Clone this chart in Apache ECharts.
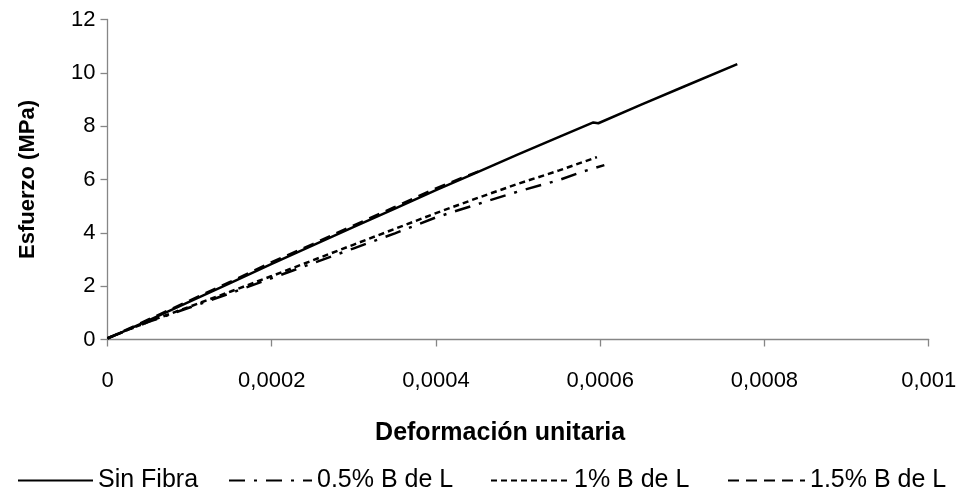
<!DOCTYPE html>
<html>
<head>
<meta charset="utf-8">
<script src="https://cdn.jsdelivr.net/npm/echarts@6/dist/echarts.min.js"></script>
<style>
html,body{margin:0;padding:0;background:#fff;}
#c{width:965px;height:495px;}
</style>
</head>
<body>
<div id="c"></div>
<script>
// Strain values (x) and stress values (y, MPa) per series
const sinFibraX = [0, 0.00005, 0.0001, 0.00015, 0.0002, 0.00025, 0.0003, 0.00035, 0.0004, 0.00045, 0.0005, 0.00055, 0.0005916, 0.0005977, 0.00065, 0.0007, 0.0007669];
const sinFibraY = [0.03, 0.72, 1.42, 2.12, 2.84, 3.53, 4.22, 4.91, 5.6, 6.27, 6.94, 7.6, 8.14, 8.11, 8.81, 9.46, 10.33];

const b05X = [0, 0.00005, 0.0001, 0.00015, 0.0002, 0.00025, 0.0003, 0.00035, 0.0004, 0.00045, 0.0005, 0.00055, 0.000579, 0.000605];
const b05Y = [0.05, 0.66, 1.2, 1.74, 2.3, 2.86, 3.42, 3.98, 4.58, 5.07, 5.55, 5.98, 6.3, 6.54];

const b1X = [0, 0.00005, 0.0001, 0.00015, 0.0002, 0.00025, 0.0003, 0.00035, 0.0004, 0.00045, 0.0005, 0.00055, 0.000596];
const b1Y = [0.05, 0.67, 1.23, 1.8, 2.38, 2.97, 3.56, 4.15, 4.74, 5.3, 5.84, 6.34, 6.84];

const b15X = [0, 0.00005, 0.0001, 0.00015, 0.0002, 0.00025, 0.0003, 0.00035, 0.0004, 0.000457];
const b15Y = [0.04, 0.75, 1.46, 2.17, 2.9, 3.58, 4.28, 4.97, 5.67, 6.37];

const seriesNames = ['Sin Fibra', '0.5% B de L', '1% B de L', '1.5% B de L'];
const xTickLabels = ['0', '0,0002', '0,0004', '0,0006', '0,0008', '0,001'];
const yTickLabels = ['0', '2', '4', '6', '8', '10', '12'];

const zip = (xs, ys) => xs.map((x, i) => [x, ys[i]]);
const FONT = '"Liberation Sans", Arial, sans-serif';

const chart = echarts.init(document.getElementById('c'), null, {renderer: 'canvas'});
const mk = (name, data, type) => ({
  name: name,
  type: 'line',
  data: data,
  showSymbol: false,
  symbol: 'none',
  smooth: false,
  lineStyle: {color: '#000', width: 2.5, type: type},
  itemStyle: {color: '#000'}
});

const legendPos = [[12, 75], [223, 83], [485, 78], [722, 77]];
const legends = seriesNames.map((n, i) => ({
  data: [n],
  left: legendPos[i][0],
  top: 463,
  itemWidth: legendPos[i][1],
  itemHeight: 14,
  itemStyle: {opacity: 0},
  textStyle: {fontFamily: FONT, fontSize: 25, color: '#000'}
}));

chart.setOption({
  animation: false,
  backgroundColor: '#fff',
  grid: {left: 107.5, right: 36.3, top: 19.5, bottom: 155.5, containLabel: false},
  xAxis: {
    type: 'value', min: 0, max: 0.001, interval: 0.0002,
    name: 'Deformación unitaria', nameLocation: 'middle', nameGap: 81,
    nameTextStyle: {fontFamily: FONT, fontSize: 25, fontWeight: 'bold', color: '#000', padding: [0, 36, 0, 0]},
    axisLine: {lineStyle: {color: '#868686', width: 1.3}},
    axisTick: {show: true, length: 7, inside: false, lineStyle: {color: '#868686', width: 1.3}},
    axisLabel: {
      fontFamily: FONT, fontSize: 22, color: '#000', margin: 30,
      formatter: v => xTickLabels[Math.round(v / 0.0002)]
    },
    splitLine: {show: false}
  },
  yAxis: {
    type: 'value', min: 0, max: 12, interval: 2,
    name: 'Esfuerzo (MPa)', nameLocation: 'middle', nameGap: 69, nameRotate: 90,
    nameTextStyle: {fontFamily: FONT, fontSize: 22, fontWeight: 'bold', color: '#000'},
    axisLine: {show: true, lineStyle: {color: '#868686', width: 1.3}},
    axisTick: {show: true, length: 7, inside: false, lineStyle: {color: '#868686', width: 1.3}},
    axisLabel: {
      fontFamily: FONT, fontSize: 22, color: '#000', margin: 12,
      formatter: v => yTickLabels[Math.round(v / 2)]
    },
    splitLine: {show: false}
  },
  legend: legends,
  series: [
    mk(seriesNames[0], zip(sinFibraX, sinFibraY), 'solid'),
    mk(seriesNames[1], zip(b05X, b05Y), [16, 9, 3, 9]),
    mk(seriesNames[2], zip(b1X, b1Y), [6, 4]),
    mk(seriesNames[3], zip(b15X, b15Y), [11, 7])
  ]
});
</script>
</body>
</html>
